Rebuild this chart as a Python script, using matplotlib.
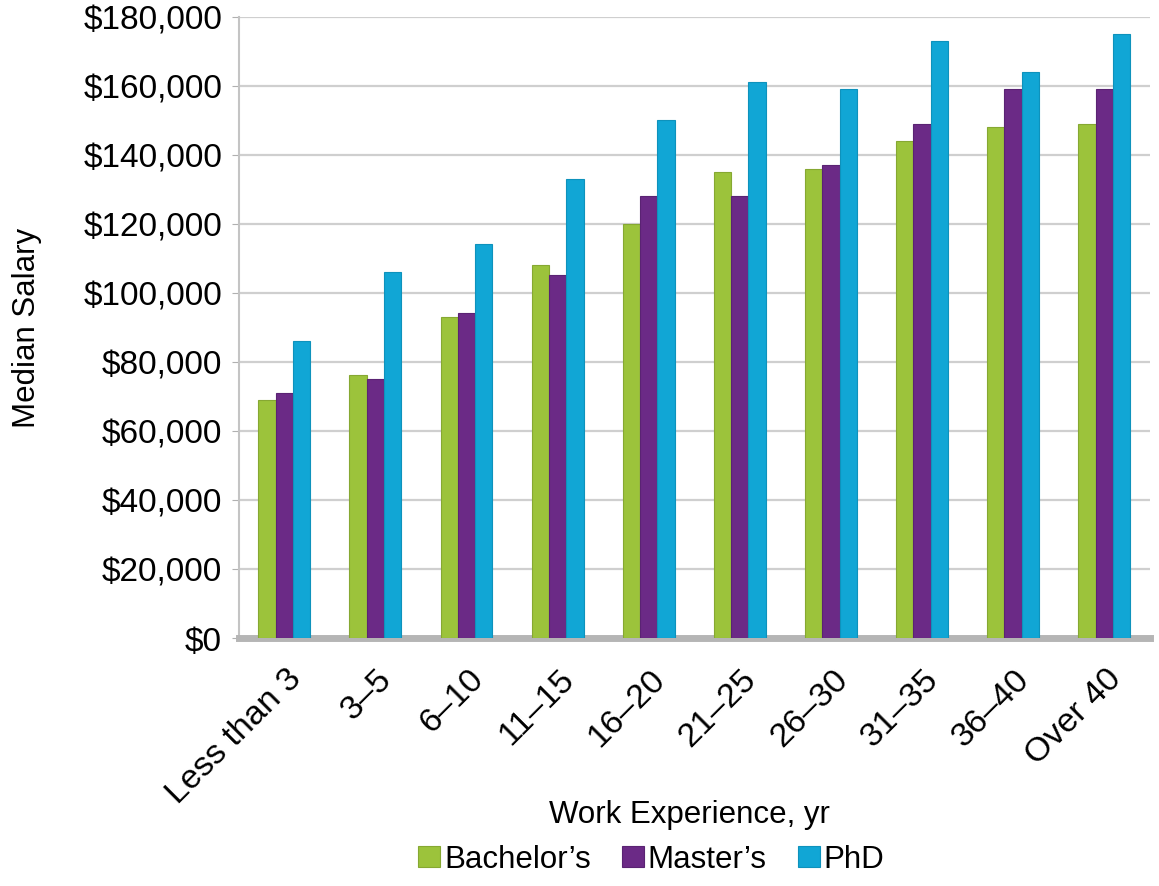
import numpy as np
import matplotlib
matplotlib.use("Agg")
import matplotlib.pyplot as plt
import matplotlib.transforms as mtransforms
from matplotlib.ticker import FuncFormatter

plt.rcParams['font.family'] = ['Liberation Sans', 'DejaVu Sans']

# data
categories = ["Less than 3", "3\u20135", "6\u201310", "11\u201315", "16\u201320",
              "21\u201325", "26\u201330", "31\u201335", "36\u201340", "Over 40"]
bachelors = [69000, 76000, 93000, 108000, 120000, 135000, 136000, 144000, 148000, 149000]
masters = [71000, 75000, 94000, 105000, 128000, 128000, 137000, 149000, 159000, 159000]
phd = [86000, 106000, 114000, 133000, 150000, 161000, 159000, 173000, 164000, 175000]
series_names = ["Bachelor\u2019s", "Master\u2019s", "PhD"]
colors = ["#9cc33b", "#6b2a86", "#11a6d5"]
edges = ["#86a832", "#5a2373", "#0e92bc"]

fig = plt.figure(figsize=(11.59, 8.87), dpi=100)
ax = fig.add_axes([0.206, 0.28, 0.786, 0.70])

x = np.arange(len(categories))
w = 0.19
for i, (vals, c, ec, name) in enumerate(zip([bachelors, masters, phd], colors, edges, series_names)):
    ax.bar(x + (i - 1) * w, vals, width=w, color=c, edgecolor=ec, linewidth=0.8,
           label=name, zorder=3)

ax.set_xlim(-0.5, len(categories) - 0.5)
ax.set_ylim(0, 180000)
ax.set_yticks(np.arange(0, 180001, 20000))
ax.yaxis.set_major_formatter(FuncFormatter(lambda v, p: "${:,.0f}".format(v)))
ax.grid(axis='y', color='#cfcfcf', linewidth=1.6, zorder=0)
ax.set_axisbelow(True)

for s in ['top', 'right']:
    ax.spines[s].set_visible(False)
ax.spines['left'].set_color('#c4c4c4')
ax.spines['left'].set_linewidth(1.5)
ax.spines['bottom'].set_color('#b5b5b5')
ax.spines['bottom'].set_linewidth(5)

ax.tick_params(axis='y', labelsize=24, length=5, color='#b0b0b0', pad=7)
ax.tick_params(axis='x', labelsize=24.5, length=0, pad=26)
ax.set_xticks(x)
ax.set_xticklabels(categories, rotation=45, ha='right', va='center', rotation_mode='anchor')
offset = mtransforms.ScaledTranslation(12 / 100, 0, fig.dpi_scale_trans)
for lab in ax.get_xticklabels():
    lab.set_transform(lab.get_transform() + offset)

ax.set_ylabel("Median Salary", fontsize=22.5, labelpad=30)
fig.text(0.595, 0.081, "Work Experience, yr", fontsize=22.5, ha='center', va='center')

fig.legend(loc='center', bbox_to_anchor=(0.562, 0.030), ncol=3, frameon=False,
           fontsize=22.5, handlelength=0.7, handleheight=0.7, handletextpad=0.12,
           columnspacing=1.0, borderpad=0)

fig.savefig("out.png", dpi=100)
